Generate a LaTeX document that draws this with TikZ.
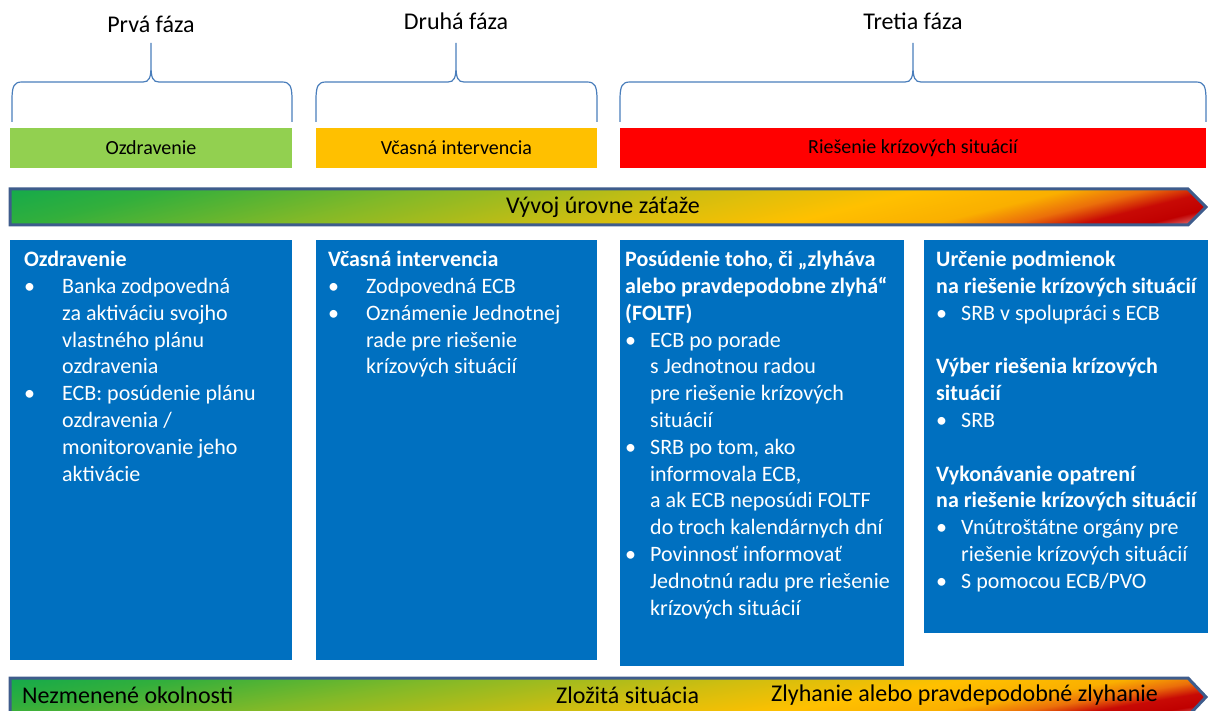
\documentclass[tikz,border=0pt]{standalone}
\usepackage{fontspec}
\setmainfont{Carlito}
\usetikzlibrary{positioning}

\definecolor{bracecol}{HTML}{4A7EBB}
\definecolor{recgreen}{HTML}{92D050}
\definecolor{eiyellow}{HTML}{FFC000}
\definecolor{resred}{HTML}{FF0000}
\definecolor{boxblue}{HTML}{0070C0}
\definecolor{barline}{RGB}{62,92,140}
\definecolor{st0}{RGB}{20,170,75}
\definecolor{st1}{RGB}{50,175,60}
\definecolor{st2}{RGB}{130,185,40}
\definecolor{st3}{RGB}{210,190,15}
\definecolor{st4}{RGB}{255,192,0}
\definecolor{st5}{RGB}{250,175,0}
\definecolor{st6}{RGB}{235,110,10}
\definecolor{st7}{RGB}{200,10,5}
\definecolor{st8}{RGB}{192,0,0}
\definecolor{st9}{RGB}{235,160,160}
% the part of the shading that is used lies between 25bp and 75bp
\pgfdeclarehorizontalshading{stress}{100bp}{color(0bp)=(st0); color(25bp)=(st0);
  color(31bp)=(st1); color(40.5bp)=(st2); color(51.5bp)=(st3); color(59bp)=(st4);
  color(64.5bp)=(st5); color(67.5bp)=(st6); color(70bp)=(st7); color(72.5bp)=(st8);
  color(75bp)=(st9); color(100bp)=(st9)}

\newlength{\bulgap}
\newcommand{\bul}{\makebox[\bulgap][l]{•}}
\newcommand{\cnt}{\hspace*{\bulgap}}

\tikzset{
  phasetitle/.style={inner sep=0pt, font=\fontsize{24}{28}\selectfont},
  phasebrace/.style={draw=bracecol, line width=1.2pt},
  phasebar/.style={minimum height=40pt, inner sep=0pt, font=\fontsize{20}{24}\selectfont},
  stressline/.style={draw=barline, line width=3pt},
  bartext/.style={inner sep=0pt, font=\fontsize{24}{28}\selectfont},
  bluebox/.style={fill=boxblue, inner sep=0pt, anchor=north west},
  bullet gap/.style={execute at begin node={\setlength{\bulgap}{#1}}},
  boxtext/.style={text=white, align=left, anchor=north west, inner sep=0pt,
    font=\fontsize{22}{26.8}\selectfont, bullet gap=38pt}
}

\begin{document}
\begin{tikzpicture}[x=1pt, y=1pt]
\useasboundingbox (0,0) rectangle (1208,-711);
\clip (0,0) rectangle (1208,-711);

% phases
\node[phasetitle] (phase1) at (151,-24) {Prvá fáza};
\node[phasetitle] (phase2) at (456,-21) {Druhá fáza};
\node[phasetitle] (phase3) at (913,-21) {Tretia fáza};
\foreach \l/\m/\r in {12/151/292, 316/456/597, 620/913/1206}
  \draw[phasebrace] (\l,-122) -- (\l,-100) .. controls (\l,-86) and (\l+2,-82) .. (\l+10,-82)
    -- (\m-8,-82) .. controls (\m-2,-82) and (\m,-78) .. (\m,-66) -- (\m,-43)
    (\m,-66) .. controls (\m,-78) and (\m+2,-82) .. (\m+8,-82)
    -- (\r-10,-82) .. controls (\r-2,-82) and (\r,-86) .. (\r,-100) -- (\r,-122);

\node[phasebar, fill=recgreen, minimum width=282pt] (recbar) at (151,-148) {Ozdravenie};
\node[phasebar, fill=eiyellow, minimum width=281pt] (eibar) at (456.5,-148) {Včasná intervencia};
\node[phasebar, fill=resred, minimum width=586pt] (resbar) at (913,-148) {Riešenie krízových situácií};

% stress arrows, shading slanted from top left to bottom right
\foreach \my/\hh/\sl in {-207/18/4, -697/19/6} {
  \begin{scope}
    \clip (10,\my+\hh) -- (1188,\my+\hh) -- (1206,\my) -- (1188,\my-\hh) -- (10,\my-\hh) -- cycle;
    \shade[shading=stress, transform canvas={shift={(0,\my)}, xslant=\sl}]
      (10-19*\sl,-19) rectangle (1206+19*\sl,19);
  \end{scope}
  \draw[stressline] (10,\my+\hh) -- (1188,\my+\hh) -- (1206,\my) -- (1188,\my-\hh) -- (10,\my-\hh) -- cycle;
}
\node[bartext] (stress) at (603,-207) {Vývoj úrovne záťaže};
\node[bartext, anchor=west] (normal) at (22,-695) {Nezmenené okolnosti};
\node[bartext, anchor=west] (difficult) at (556,-695) {Zložitá situácia};
\node[bartext, anchor=west] (failing) at (771,-695) {Zlyhanie alebo pravdepodobné zlyhanie};

% blue boxes
\node[bluebox, minimum width=282pt, minimum height=420pt] (box1) at (10,-240) {};
\node[bluebox, minimum width=281pt, minimum height=420pt] (box2) at (316,-240) {};
\node[bluebox, minimum width=284pt, minimum height=426pt] (box3) at (620,-240) {};
\node[bluebox, minimum width=290pt, minimum height=393pt] (box4) at (924,-240) {};

\node[boxtext] (rec) at (24,-251) {\textbf{Ozdravenie}\\
  \bul Banka zodpovedná\\
  \cnt za aktiváciu svojho\\
  \cnt vlastného plánu\\
  \cnt ozdravenia\\
  \bul ECB: posúdenie plánu\\
  \cnt ozdravenia /\\
  \cnt monitorovanie jeho\\
  \cnt aktivácie};
\node[boxtext] (ei) at (328,-251) {\textbf{Včasná intervencia}\\
  \bul Zodpovedná ECB\\
  \bul Oznámenie Jednotnej\\
  \cnt rade pre riešenie\\
  \cnt krízových situácií};
\node[boxtext, bullet gap=25pt] (foltf) at (625,-251) {\textbf{Posúdenie toho, či „zlyháva}\\
  \textbf{alebo pravdepodobne zlyhá“}\\
  \textbf{(FOLTF)}\\
  \bul ECB po porade\\
  \cnt s Jednotnou radou\\
  \cnt pre riešenie krízových\\
  \cnt situácií\\
  \bul SRB po tom, ako\\
  \cnt informovala ECB,\\
  \cnt a ak ECB neposúdi FOLTF\\
  \cnt do troch kalendárnych dní\\
  \bul Povinnosť informovať\\
  \cnt Jednotnú radu pre riešenie\\
  \cnt krízových situácií};
\node[boxtext, bullet gap=25pt] (res) at (936,-251) {\textbf{Určenie podmienok}\\
  \textbf{na riešenie krízových situácií}\\
  \bul SRB v spolupráci s ECB\\[26.8pt]
  \textbf{Výber riešenia krízových}\\
  \textbf{situácií}\\
  \bul SRB\\[26.8pt]
  \textbf{Vykonávanie opatrení}\\
  \textbf{na riešenie krízových situácií}\\
  \bul Vnútroštátne orgány pre\\
  \cnt riešenie krízových situácií\\
  \bul S pomocou ECB/PVO};
\end{tikzpicture}
\end{document}
